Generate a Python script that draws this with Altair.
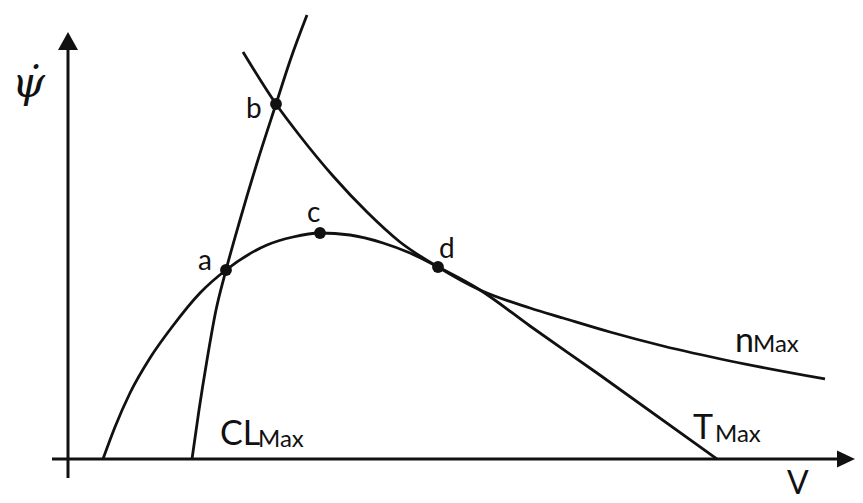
import altair as alt
import pandas as pd

# ---- curve values (V, psi_dot), arbitrary units ----
tmax_v   = [3.5, 4.7, 6.2, 8.2, 10.4, 13.2, 15.8, 19.9, 22.5, 25.2, 28.2, 31.5, 34.2, 37.0, 41.2, 46.2, 52.9, 64.9]
tmax_psi = [0.0, 3.2, 6.6, 10.1, 13.2, 16.6, 18.9, 21.4, 22.2, 22.6, 22.4, 21.6, 20.6, 19.2, 16.9, 13.3, 8.6, 0.0]

clmax_v   = [12.4, 13.1, 13.9, 14.8, 15.8, 17.2, 18.9, 20.8, 22.3, 23.9]
clmax_psi = [0.0, 4.9, 9.9, 14.9, 18.9, 23.9, 29.6, 35.5, 40.1, 44.4]

nmax_v   = [17.5, 20.8, 23.2, 26.5, 29.9, 33.2, 37.0, 41.2, 46.2, 49.5, 54.2, 59.5, 66.2, 75.7]
nmax_psi = [40.7, 35.5, 32.3, 28.3, 24.7, 21.7, 19.2, 16.9, 15.1, 14.1, 12.7, 11.3, 9.8, 8.0]

pt_names = ["a", "b", "c", "d"]
pt_v     = [15.8, 20.8, 25.2, 37.0]
pt_psi   = [18.9, 35.5, 22.6, 19.2]

# ---- labels ----
lab_text = ["a", "b", "c", "d", "CL", "Max", "n", "Max", "T", "Max", "V"]
lab_v    = [13.0, 17.8, 23.9, 37.1, 15.2, 19.0, 66.7, 68.5, 62.5, 64.7, 71.9]
lab_psi  = [18.9, 34.1, 23.7, 20.1, 1.4, 1.2, 10.7, 10.7, 2.0, 1.7, -3.5]
lab_fs   = [28, 28, 28, 28, 34, 24, 34, 24, 34, 24, 32]

INK = "#111111"
X = alt.Scale(domain=[-6.0, 78.7], nice=False, zero=False)
Y = alt.Scale(domain=[-3.6, 45.1], nice=False, zero=False)


def curve(vs, ps):
    df = pd.DataFrame({"V": vs, "psi": ps})
    return alt.Chart(df).mark_line(interpolate="monotone", color=INK, strokeWidth=2.8).encode(
        x=alt.X("V:Q", scale=X, axis=None),
        y=alt.Y("psi:Q", scale=Y, axis=None),
        order=alt.Order("V:Q"),
    )


axes_df = pd.DataFrame({
    "x": [0.0, -1.6], "y": [-1.9, 0.0], "x2": [0.0, 77.0], "y2": [41.0, 0.0]
})
axes = alt.Chart(axes_df).mark_rule(color=INK, strokeWidth=3).encode(
    x=alt.X("x:Q", scale=X, axis=None), y=alt.Y("y:Q", scale=Y, axis=None),
    x2="x2:Q", y2="y2:Q",
)

up_arrow = alt.Chart(pd.DataFrame({"x": [0.0], "y": [41.9]})).mark_point(
    shape="M -1 1 L 1 1 L 0 -0.8 Z", filled=True, size=400, color=INK, opacity=1, strokeWidth=0
).encode(x=alt.X("x:Q", scale=X, axis=None), y=alt.Y("y:Q", scale=Y, axis=None))

right_arrow = alt.Chart(pd.DataFrame({"x": [77.8], "y": [0.0]})).mark_point(
    shape="M -1 -0.95 L 1 0 L -1 0.95 Z", filled=True, size=324, color=INK, opacity=1, strokeWidth=0
).encode(x=alt.X("x:Q", scale=X, axis=None), y=alt.Y("y:Q", scale=Y, axis=None))

dots = alt.Chart(pd.DataFrame({"V": pt_v, "psi": pt_psi, "name": pt_names})).mark_point(
    shape="circle", filled=True, size=140, color=INK, opacity=1
).encode(x=alt.X("V:Q", scale=X, axis=None), y=alt.Y("psi:Q", scale=Y, axis=None))

labels = alt.Chart(pd.DataFrame({"t": lab_text, "V": lab_v, "psi": lab_psi, "fs": lab_fs})).mark_text(
    align="left", baseline="alphabetic", font="Lato", color=INK
).encode(
    x=alt.X("V:Q", scale=X, axis=None), y=alt.Y("psi:Q", scale=Y, axis=None),
    text="t:N", size=alt.Size("fs:Q", scale=None),
)

psi_label = alt.Chart(pd.DataFrame({"t": ["\u03c8\u0307"], "V": [-5.6], "psi": [36.2]})).mark_text(
    align="left", baseline="alphabetic", font="DejaVu Serif", fontStyle="italic", fontSize=42, color=INK
).encode(x=alt.X("V:Q", scale=X, axis=None), y=alt.Y("psi:Q", scale=Y, axis=None), text="t:N")

chart = alt.layer(
    axes, up_arrow, right_arrow,
    curve(tmax_v, tmax_psi), curve(clmax_v, clmax_psi), curve(nmax_v, nmax_psi),
    dots, labels, psi_label,
).properties(width=847, height=487, padding=0).configure_view(stroke=None)

chart.save("out.html", embed_options={"renderer": "svg", "actions": False})
